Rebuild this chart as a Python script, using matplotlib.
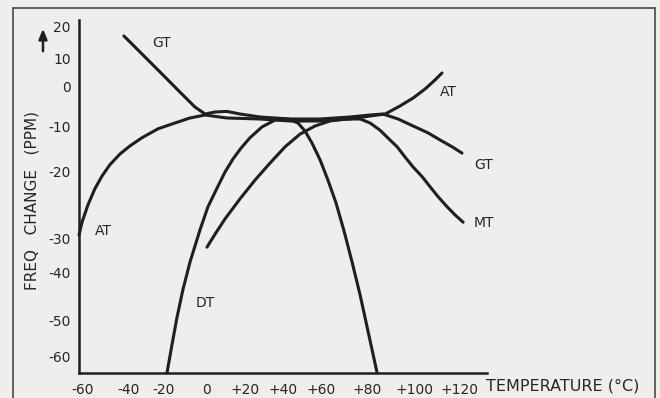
import numpy as np
import matplotlib
matplotlib.use("Agg")
import matplotlib.pyplot as plt
from matplotlib.lines import Line2D

# curve data (temperature in C, freq change in ppm)
gt_temp = [-42.2, -33.7, -22.3, -12.6, -5.6, -0.9, 4.2, 10.5, 17.4, 27.9, 43.7,
           59.5, 72.6, 81.3, 86.8, 93.2, 99.6, 106.2, 111.6, 116.9, 121.3]
gt_ppm = [17.2, 12.2, 5.4, -1.25, -5.0, -6.75, -6.25, -6.1, -6.75, -7.5, -8.0,
          -8.0, -7.5, -7.0, -6.75, -8.0, -9.75, -11.3, -12.9, -14.4, -15.8]

at_temp = [-61.7, -60.4, -57.8, -54.8, -51.7, -48.3, -43.9, -39.4, -32.6, -23.4,
           -14.9, -7.9, -0.9, 10.5, 27.9, 43.7, 59.5, 72.6, 81.3, 87.7, 94.0,
           99.6, 104.9, 109.3, 112.4]
at_ppm = [-29.4, -27.5, -24.9, -22.5, -20.6, -18.4, -16.0, -14.2, -12.4, -10.4,
          -9.0, -7.75, -7.0, -7.75, -8.0, -8.5, -8.5, -8.0, -7.25, -6.75, -4.75,
          -2.75, -0.5, 2.5, 5.0]

dt_temp = [-18.6, -16.3, -14.0, -11.2, -7.9, -3.3, 0.5, 5.3, 9.5, 13.7, 17.9,
           22.6, 28.9, 35.8, 42.6, 47.9, 51.6, 55.3, 59.5, 63.0, 66.5, 70.0,
           73.5, 77.0, 80.4, 84.3]
dt_ppm = [-64.4, -56.7, -49.4, -43.5, -36.8, -28.7, -25.2, -22.4, -20.0, -17.1,
          -14.7, -12.4, -10.0, -8.25, -8.0, -9.0, -10.9, -13.6, -17.3, -21.2,
          -24.6, -28.8, -36.8, -44.6, -52.8, -64.4]

mt_temp = [0.0, 4.2, 9.5, 17.4, 25.3, 33.2, 41.1, 48.9, 56.8, 63.9, 70.4, 77.0,
           81.3, 85.5, 89.8, 92.8, 96.2, 99.6, 103.6, 107.1, 110.7, 114.7,
           118.2, 121.8]
mt_ppm = [-32.4, -29.3, -27.0, -24.0, -21.2, -18.0, -14.4, -11.6, -9.75, -8.5,
          -8.0, -8.0, -9.0, -10.7, -12.9, -14.4, -16.7, -18.9, -20.7, -22.2,
          -23.7, -25.2, -26.4, -27.5]

x_ticks = [-60, -40, -20, 0, 20, 40, 60, 80, 100, 120]
x_tick_labels = ['-60', '-40', '-20', '0', '+20', '+40', '+60', '+80', '+100', '+120']
y_ticks = [20, 10, 0, -10, -20, -30, -40, -50, -60]
y_tick_labels = ['20', '10', '0', '-10', '-20', '-30', '-40', '-50', '-60']

# the hand lettered scales are not evenly spaced, so map them piecewise
x_cal = np.array([-100, -60, -40, -20, 0, 20, 40, 60, 80, 100, 120, 160])
x_cal_pos = np.array([-9, 83, 129, 164, 207, 245, 283, 321, 367, 414, 459, 549])
y_cal = np.array([-100, -64.4, -60, -50, -40, -30, -20, -10, 0, 10, 20, 22.2, 40])
y_cal_pos = -np.array([501, 373, 357, 321, 273, 239, 172, 127, 87, 59, 27, 20, -37])

ink = '#1f1f1f'
txt = '#262626'

fig = plt.figure(figsize=(6.6, 3.98), dpi=100, facecolor='#eeeeec')
ax = fig.add_axes([79 / 660, 1 - 373 / 398, 408 / 660, 353 / 398])
ax.set_facecolor('none')

ax.set_xscale('function', functions=(lambda v: np.interp(v, x_cal, x_cal_pos),
                                     lambda p: np.interp(p, x_cal_pos, x_cal)))
ax.set_yscale('function', functions=(lambda v: np.interp(v, y_cal, y_cal_pos),
                                     lambda p: np.interp(p, y_cal_pos, y_cal)))

for t, p in [(gt_temp, gt_ppm), (at_temp, at_ppm), (dt_temp, dt_ppm), (mt_temp, mt_ppm)]:
    ax.plot(t, p, color=ink, lw=2.2, solid_capstyle='round', solid_joinstyle='round',
            clip_on=False)

ax.set_xlim(-61.7, 132.4)
ax.set_ylim(-64.4, 22.2)

ax.set_xticks(x_ticks)
ax.set_xticklabels(x_tick_labels)
ax.set_yticks(y_ticks)
ax.set_yticklabels(y_tick_labels)
ax.tick_params(length=0, labelsize=10, labelcolor=txt)
ax.tick_params(axis='x', pad=7)
ax.tick_params(axis='y', pad=6)

for s in ['top', 'right']:
    ax.spines[s].set_visible(False)
for s in ['left', 'bottom']:
    ax.spines[s].set_linewidth(1.8)
    ax.spines[s].set_color(ink)

# curve names
ax.text(-21.1, 15.0, 'GT', fontsize=10, color=txt, ha='center', va='center')
ax.text(-51.3, -28.8, 'AT', fontsize=10, color=txt, ha='center', va='center')
ax.text(-0.9, -46.25, 'DT', fontsize=10, color=txt, ha='center', va='center')
ax.text(115.1, -1.25, 'AT', fontsize=10, color=txt, ha='center', va='center', clip_on=False)
ax.text(130.7, -18.4, 'GT', fontsize=10, color=txt, ha='center', va='center', clip_on=False)
ax.text(131.1, -27.6, 'MT', fontsize=10, color=txt, ha='center', va='center', clip_on=False)

# axis titles
fig.text(486 / 660, 1 - 386 / 398, 'TEMPERATURE (°C)', fontsize=11.5, color=txt,
         ha='left', va='center')
fig.text(32 / 660, 1 - 200 / 398, 'FREQ   CHANGE   (PPM)', fontsize=11, color=txt,
         rotation=90, ha='center', va='center')
ax.annotate('', xy=(43 / 660, 1 - 26 / 398), xytext=(43 / 660, 1 - 54 / 398),
            xycoords='figure fraction', textcoords='figure fraction',
            arrowprops=dict(arrowstyle='-|>,head_width=0.25,head_length=0.6',
                            color=ink, lw=1.8))

# outer frame of the figure
frame = dict(color='#555555', lw=1.3)
fig.add_artist(Line2D([13 / 660, 13 / 660], [0, 1 - 8 / 398], **frame))
fig.add_artist(Line2D([13 / 660, 655 / 660], [1 - 8 / 398, 1 - 8 / 398], **frame))
fig.add_artist(Line2D([655 / 660, 655 / 660], [0, 1 - 8 / 398], **frame))

fig.savefig('out.png', dpi=100, facecolor=fig.get_facecolor())
